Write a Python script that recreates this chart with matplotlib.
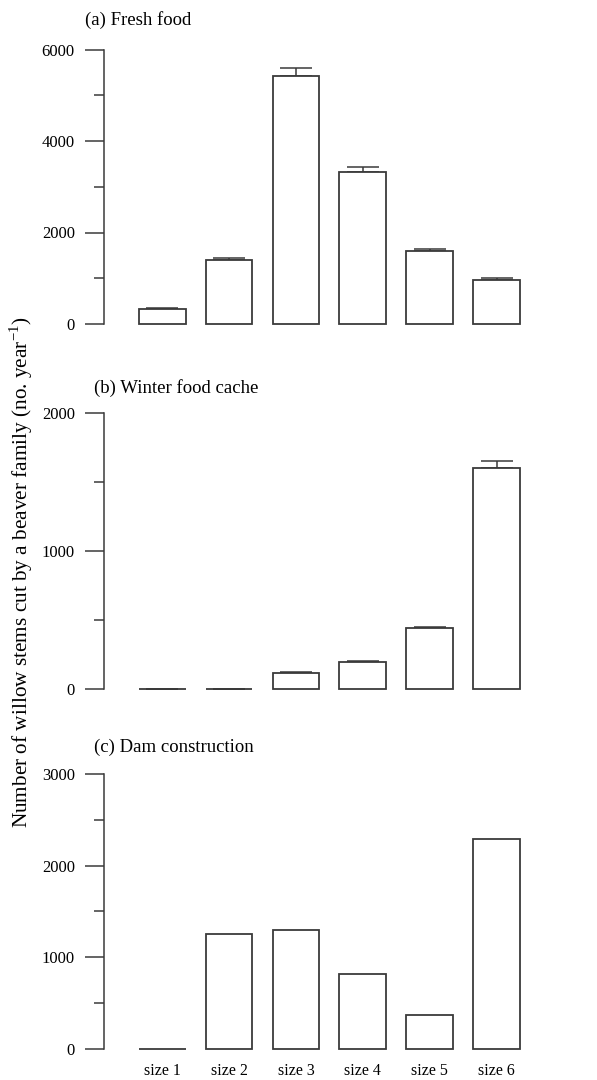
"""Willow stems cut by a beaver family, by stem size class (three panels)."""

import matplotlib

matplotlib.use("Agg")
import matplotlib.pyplot as plt  # noqa: E402
import numpy as np  # noqa: E402

sizes = ["size 1", "size 2", "size 3", "size 4", "size 5", "size 6"]

fresh_food = [330, 1400, 5420, 3330, 1605, 965]
fresh_food_se = [25, 35, 170, 110, 40, 35]

winter_cache = [0, 0, 115, 196, 438, 1605]
winter_cache_se = [0, 0, 4, 5, 10, 50]

dam = [0, 1252, 1293, 815, 371, 2286]

titles = ["(a) Fresh food", "(b) Winter food cache", "(c) Dam construction"]
ymax = [6000, 2000, 3000]
major_step = [2000, 1000, 1000]

plt.rcParams["font.family"] = ["Liberation Serif", "DejaVu Serif"]
plt.rcParams["mathtext.fontset"] = "custom"
plt.rcParams["mathtext.rm"] = "Liberation Serif"

LINE = "#3a3a3a"
W, H = 597, 1080

fig = plt.figure(figsize=(W / 100, H / 100), dpi=100)

# axes boxes in pixels: (top, bottom)
boxes = [(49.5, 324), (413.3, 688.7), (774, 1048.7)]
title_pos = [(85, 20), (94, 388), (94, 747)]
left_px, right_px = 104, 540

series = [(fresh_food, fresh_food_se), (winter_cache, winter_cache_se), (dam, None)]
x = np.arange(len(sizes))

for k, ((top, bot), (vals, err)) in enumerate(zip(boxes, series)):
    ax = fig.add_axes([left_px / W, 1 - bot / H, (right_px - left_px) / W, (bot - top) / H])
    if err is not None:
        ax.errorbar(x, vals, yerr=[np.zeros(len(err)), err], fmt="none",
                    ecolor=LINE, elinewidth=1.1, capsize=11.5, capthick=1.1,
                    clip_on=False, zorder=1)
    ax.bar(x, vals, width=0.7, facecolor="white", edgecolor=LINE,
           linewidth=1.3, clip_on=False, zorder=2)

    ax.set_xlim(-0.87, 5.65)
    ax.set_ylim(0, ymax[k])
    for s in ("top", "right", "bottom"):
        ax.spines[s].set_visible(False)
    ax.spines["left"].set_color(LINE)
    ax.spines["left"].set_linewidth(1.1)

    ax.set_yticks(np.arange(0, ymax[k] + 1, major_step[k]))
    ax.set_yticks(np.arange(0, ymax[k] + 1, major_step[k] / 2), minor=True)
    ax.tick_params(axis="y", which="major", length=14, width=1.1, color=LINE,
                   labelsize=12, pad=7)
    ax.tick_params(axis="y", which="minor", length=7, width=1.1, color=LINE)

    ax.set_xticks(x)
    if k == 2:
        ax.set_xticklabels(sizes)
        ax.tick_params(axis="x", length=0, labelsize=11.5, pad=10)
    else:
        ax.set_xticklabels([])
        ax.tick_params(axis="x", length=0)

    tx, ty = title_pos[k]
    fig.text(tx / W, 1 - ty / H, titles[k], fontsize=13.5, ha="left", va="center")

fig.text(21 / W, 1 - 572 / H,
         "Number of willow stems cut by a beaver family (no. year$^{-1}$)",
         rotation=90, ha="center", va="center", fontsize=15.3)

fig.savefig("out.png", dpi=100)
plt.close(fig)
